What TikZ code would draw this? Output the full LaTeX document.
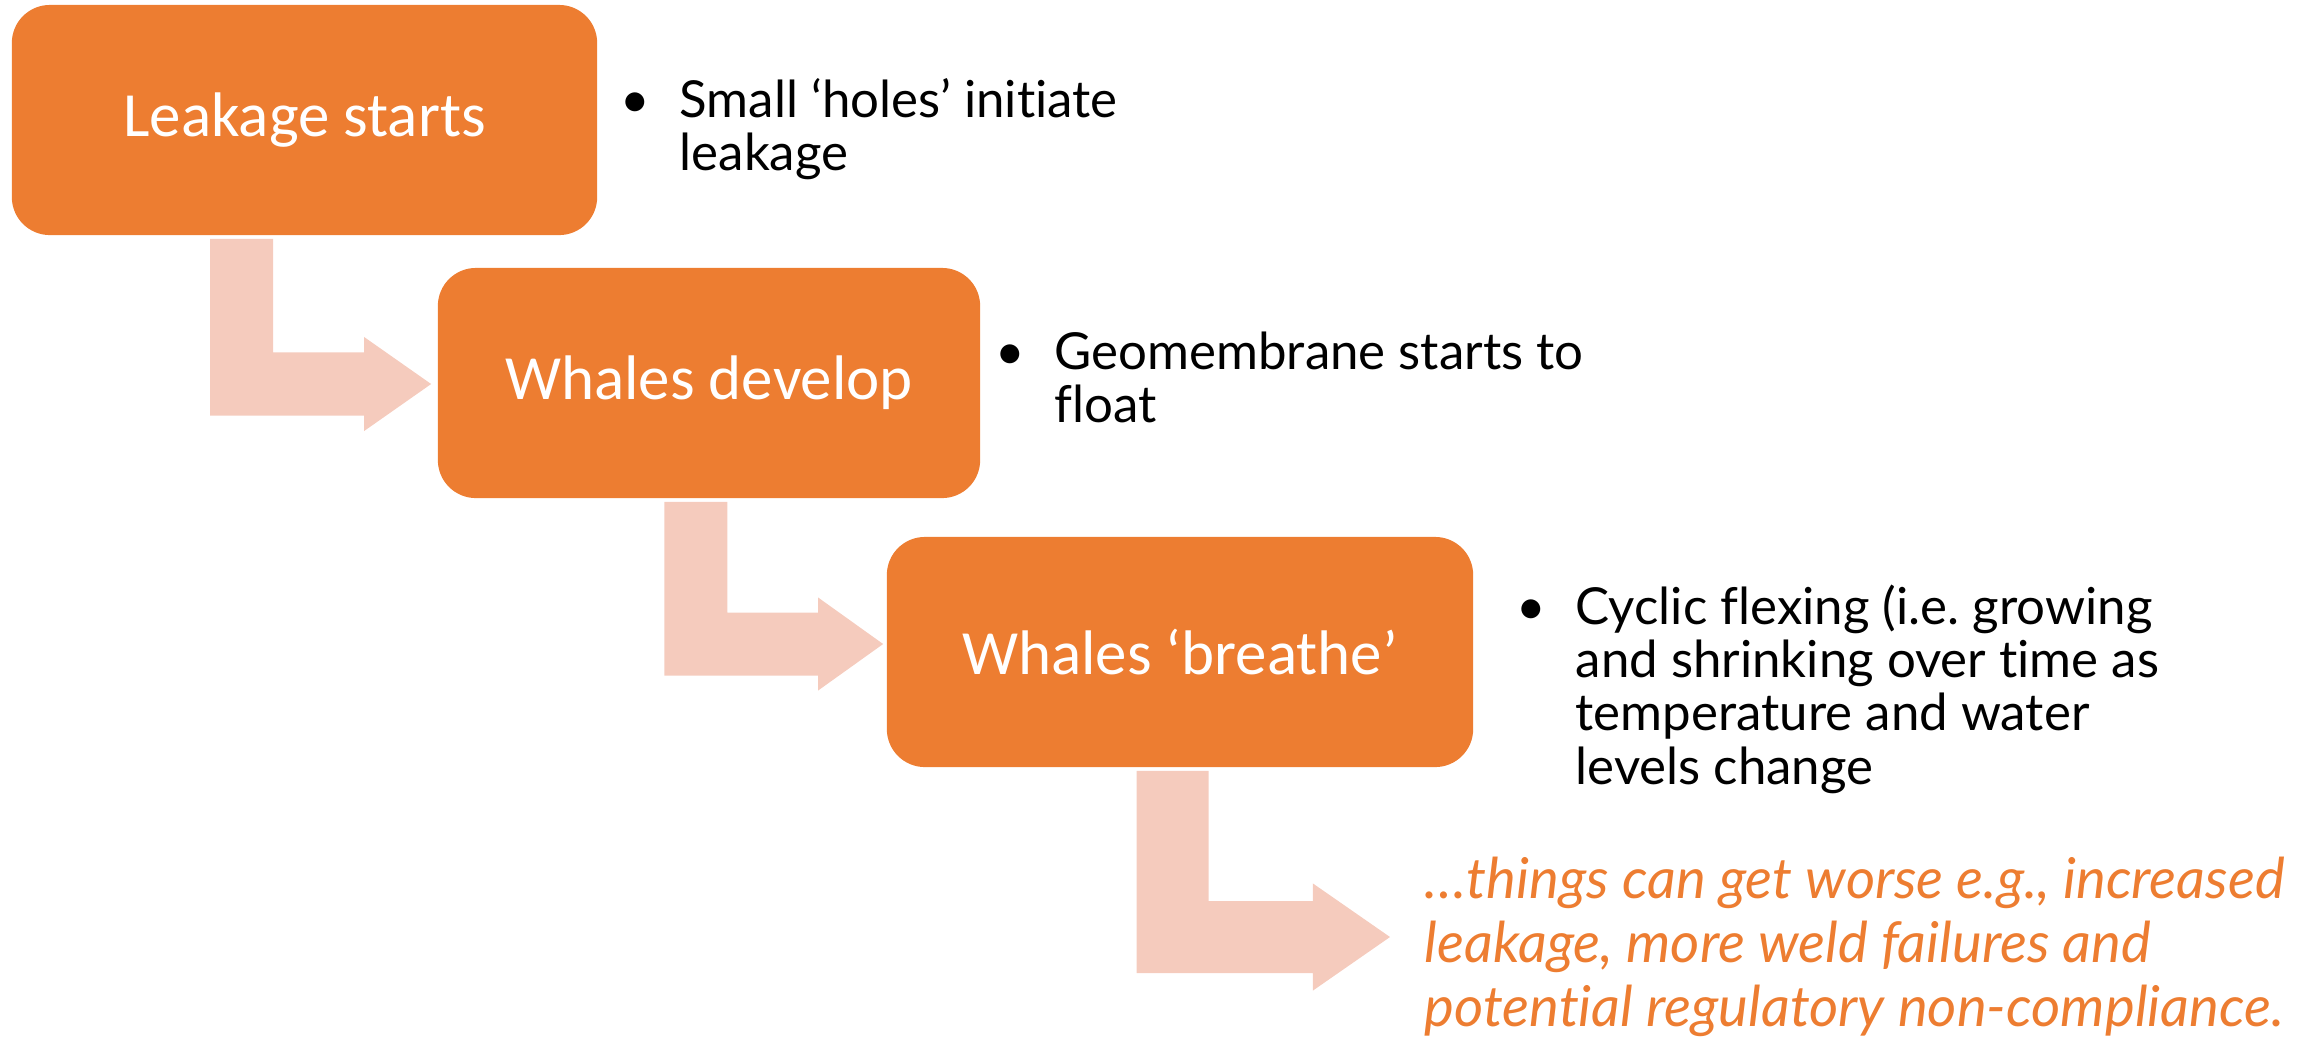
\documentclass[tikz,border=0pt]{standalone}
\usepackage{fontspec}
\setmainfont{Carlito}
\newfontfamily\notefont[Ligatures=NoCommon]{Lato}
\usetikzlibrary{calc}
\frenchspacing

\definecolor{stageorange}{HTML}{ED7D31}
\definecolor{flowpink}{HTML}{F5CBBD}

\tikzset{
  stage/.style={fill=stageorange, text=white, rounded corners=0.38cm, inner sep=0pt,
    minimum height=2.3cm, font=\fontsize{17.9}{21}\selectfont},
  flow/.style={fill=flowpink},
  note/.style={anchor=base west, inner sep=0pt, font=\notefont\fontsize{14.5}{15.2}\selectfont},
  outcome/.style={anchor=base west, inner sep=0pt, text=stageorange,
    font=\notefont\itshape\fontsize{16}{18.2}\selectfont}
}

% #1 from node, #2 tip, #3 shaft centre x, #4 half shaft, #5 half head, #6 head length (all cm)
\newcommand{\bentarrow}[6]{%
  \fill[flow] let \p1=(#1.south), \p2=(#2) in
    (#3cm-#4cm, \y1-0.03cm) -- (#3cm+#4cm, \y1-0.03cm) -- (#3cm+#4cm, \y2+#4cm)
    -- (\x2-#6cm, \y2+#4cm) -- (\x2-#6cm, \y2+#5cm) -- (\x2, \y2)
    -- (\x2-#6cm, \y2-#5cm) -- (\x2-#6cm, \y2-#4cm) -- (#3cm-#4cm, \y2-#4cm) -- cycle;}

\begin{document}
\begin{tikzpicture}[x=0.01cm, y=-0.01cm]
  \useasboundingbox (0,0) rectangle (2323,1038);

  % stages
  \node[stage, minimum width=5.85cm] (leak) at (304.5,120) {Leakage starts};
  \node[stage, minimum width=5.42cm] (develop) at (709,383) {Whales develop};
  \node[stage, minimum width=5.86cm] (breathe) at (1180,652) {Whales ‘breathe’};

  % notes
  \node[note] (leaknote) at (679,117)
    {\parbox[t]{6cm}{\noindent\llap{\textbullet\hspace{0.3cm}}Small ‘holes’ initiate\\leakage}};
  \node[note] (developnote) at (1054,369)
    {\parbox[t]{7cm}{\noindent\llap{\textbullet\hspace{0.3cm}}Geomembrane starts to\\float}};
  \node[note] (breathenote) at (1575,624)
    {\parbox[t]{7cm}{\noindent\llap{\textbullet\hspace{0.3cm}}Cyclic flexing (i.e. growing\\and shrinking over time as\\temperature and water\\levels change}};

  \coordinate (worse) at (1390,937);
  \node[outcome] (worsenote) at (1424,898)
    {\parbox[t]{9cm}{…things can get worse e.g., increased\\leakage, more weld failures and\\potential regulatory non-compliance.}};

  % flow arrows
  \bentarrow{leak}{$(develop.west)+(-6,1)$}{2.415}{0.315}{0.47}{0.67}
  \bentarrow{develop}{$(breathe.west)+(-3,-8)$}{6.955}{0.315}{0.465}{0.65}
  \bentarrow{breathe}{worse}{11.72}{0.36}{0.535}{0.77}
\end{tikzpicture}
\end{document}
